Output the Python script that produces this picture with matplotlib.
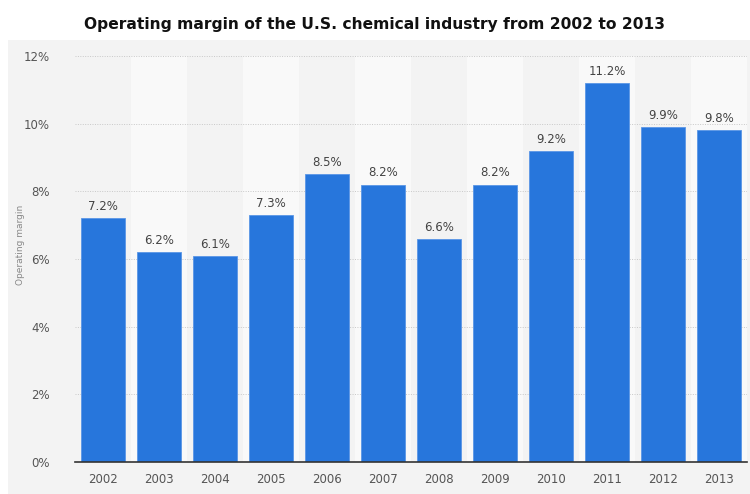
import matplotlib.pyplot as plt
import numpy as np

years = ["2002", "2003", "2004", "2005", "2006", "2007", "2008",
         "2009", "2010", "2011", "2012", "2013"]
margin = [7.2, 6.2, 6.1, 7.3, 8.5, 8.2, 6.6, 8.2, 9.2, 11.2, 9.9, 9.8]
y_ticks = [0, 2, 4, 6, 8, 10, 12]

fig = plt.figure(figsize=(7.5, 4.94), dpi=100)
fig.patch.set_facecolor("white")

# gray panel behind the plot
panel = plt.Rectangle((8 / 750, 0), 742 / 750, 1 - 40 / 494,
                      transform=fig.transFigure, facecolor="#f3f3f3",
                      edgecolor="none", zorder=-10)
fig.patches.append(panel)

ax = fig.add_axes([75 / 750, 1 - 462 / 494, 672 / 750, 406 / 494])
ax.set_facecolor("#f3f3f3")

x = np.arange(len(years))
# alternate column shading
for i in x:
    if i % 2 == 1:
        ax.axvspan(i - 0.5, i + 0.5, color="#f9f9f9", zorder=0, lw=0)

ax.bar(x, margin, width=0.78, color="#2776dc", edgecolor="#5a96e6",
       linewidth=0.6, zorder=3)
for xi, v in zip(x, margin):
    ax.text(xi, v + 0.15, f"{v}%", ha="center", va="bottom",
            fontsize=8.5, color="#444444", zorder=4)

ax.set_xlim(-0.5, len(years) - 0.5)
ax.set_ylim(0, 12)
ax.set_yticks(y_ticks)
ax.set_yticklabels([f"{t}%" for t in y_ticks])
ax.set_xticks(x)
ax.set_xticklabels(years)
ax.tick_params(axis="both", length=0, labelsize=8.5, labelcolor="#555555")
ax.tick_params(axis="y", pad=18)
ax.tick_params(axis="x", pad=8)
ax.yaxis.grid(True, linestyle=(0, (1, 1.5)), color="#c8c8c8", linewidth=0.7, zorder=1)
for side in ["top", "right", "left"]:
    ax.spines[side].set_visible(False)
ax.spines["bottom"].set_color("#333333")
ax.spines["bottom"].set_linewidth(1.2)
ax.spines["bottom"].set_zorder(5)

fig.text(21 / 750, 1 - 245 / 494, "Operating margin", rotation=90,
         ha="center", va="center", fontsize=6.5, color="#888888")
fig.text(375 / 750, 1 - 24 / 494,
         "Operating margin of the U.S. chemical industry from 2002 to 2013",
         ha="center", va="center", fontsize=11.2, fontweight="bold", color="#111111")

fig.savefig("out.png", dpi=100)
